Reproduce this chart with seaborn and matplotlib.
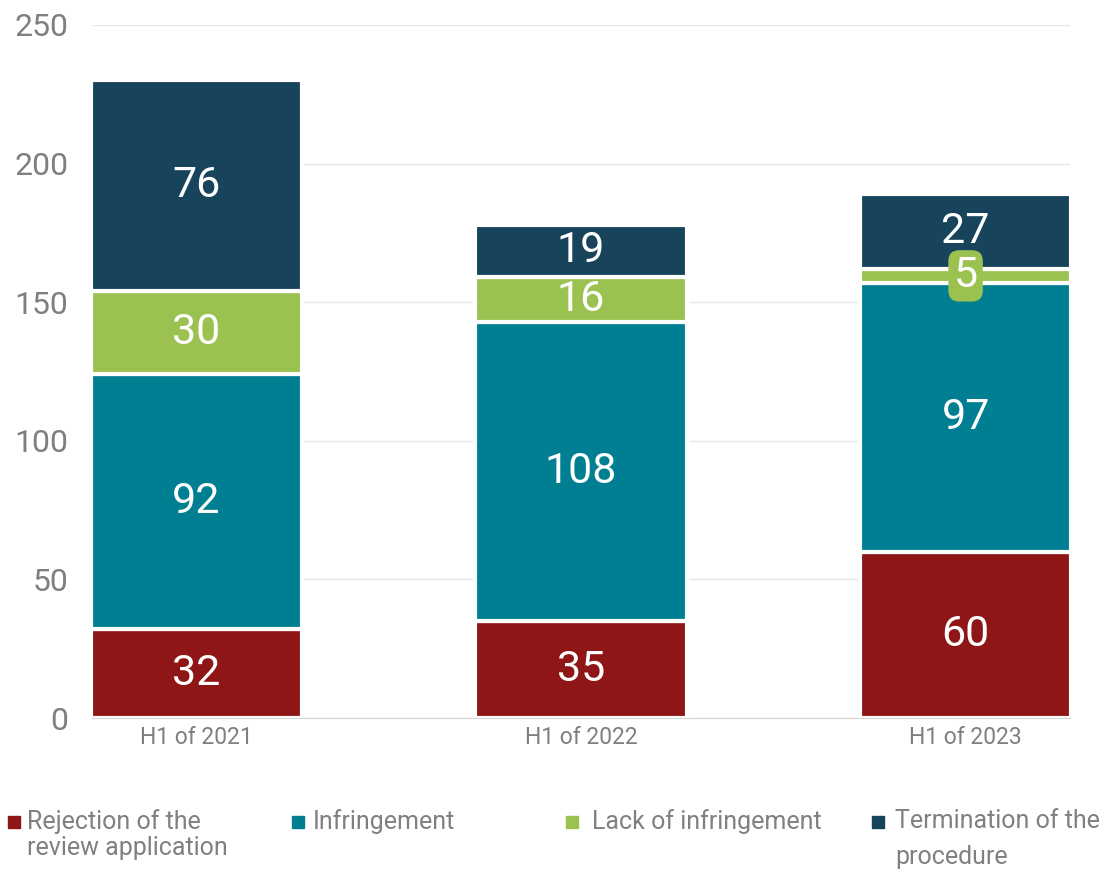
import matplotlib
matplotlib.use('Agg')
import matplotlib.pyplot as plt
from matplotlib.patches import Rectangle
import numpy as np
import seaborn as sns

periods = ['H1 of 2021', 'H1 of 2022', 'H1 of 2023']
rejection = [32, 35, 60]
infringement = [92, 108, 97]
lack = [30, 16, 5]
termination = [76, 19, 27]

series_names = ['Rejection of the\nreview application', 'Infringement',
                'Lack of infringement', 'Termination of the\nprocedure']
series_values = [rejection, infringement, lack, termination]
colors = ['#8e1616', '#007f92', '#9bc251', '#17435b']

sns.set_style('white')
plt.rcParams['font.family'] = ['Roboto', 'DejaVu Sans']

W, H = 1103, 872
fig = plt.figure(figsize=(W / 100, H / 100), dpi=100)
ax = fig.add_axes([92 / W, 1 - 718 / H, (1070 - 92) / W, (718 - 25) / H])

bottom = np.zeros(len(periods))
for name, vals, c in zip(series_names, series_values, colors):
    sns.barplot(x=periods, y=vals, bottom=bottom, color=c, width=0.55,
                edgecolor='white', linewidth=3, errorbar=None, ax=ax,
                saturation=1)
    for i, v in enumerate(vals):
        yc = bottom[i] + v / 2
        if v < 10:
            ax.text(i, yc, str(v), ha='center', va='center', color='white',
                    fontsize=31, zorder=5,
                    bbox=dict(boxstyle='round,pad=0.12,rounding_size=0.25',
                              fc=c, ec='none'))
        else:
            ax.text(i, yc, str(v), ha='center', va='center', color='white',
                    fontsize=31, zorder=5)
    bottom = bottom + np.array(vals)

ax.set_xlim(-0.2715, 2.2715)
ax.set_ylim(0, 250)
ax.set_yticks(range(0, 251, 50))
ax.yaxis.grid(True, color='#e6e6e6', lw=1)
ax.set_axisbelow(True)
for s in ['left', 'right', 'top']:
    ax.spines[s].set_visible(False)
ax.spines['bottom'].set_color('#d6d6d6')
ax.tick_params(axis='y', length=0, pad=17, labelsize=23, labelcolor='#7f7f7f')
ax.tick_params(axis='x', length=0, pad=6, labelsize=16.5, labelcolor='#7f7f7f')
ax.set_xlabel('')
ax.set_ylabel('')

# legend drawn by hand to keep the uneven spacing of the original
legend_pos = [(8, 27, 1.1), (292, 313, 1.1), (566, 592, 1.1), (872, 895, 1.65)]
for (mx, tx, ls), name, c in zip(legend_pos, series_names, colors):
    fig.add_artist(Rectangle((mx / W, 1 - 828 / H), 12 / W, 12 / H,
                             transform=fig.transFigure, color=c))
    fig.text(tx / W, 1 - 809 / H, name, ha='left', va='top', fontsize=18,
             color='#808080', linespacing=ls)

fig.savefig('out.png', dpi=100)
